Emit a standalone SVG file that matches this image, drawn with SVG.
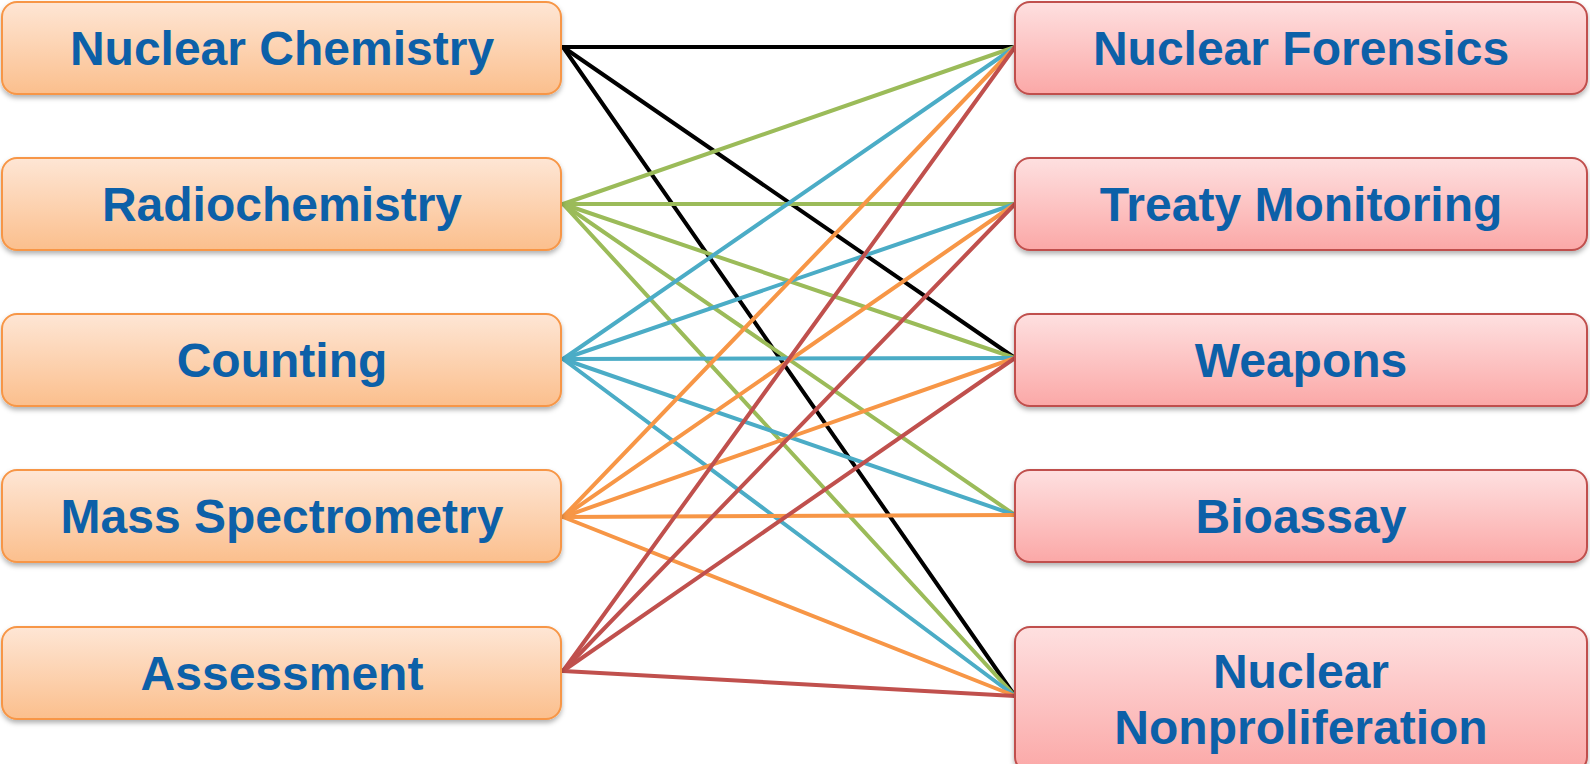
<svg xmlns="http://www.w3.org/2000/svg" width="1590" height="764" viewBox="0 0 1590 764">
<defs>
<linearGradient id="gO" x1="0" y1="0" x2="0" y2="1"><stop offset="0" stop-color="#FEE6D5"/><stop offset="1" stop-color="#FBBF8D"/></linearGradient>
<linearGradient id="gR" x1="0" y1="0" x2="0" y2="1"><stop offset="0" stop-color="#FEE0E0"/><stop offset="1" stop-color="#FBA8A7"/></linearGradient>
<filter id="sh" x="-5%" y="-10%" width="110%" height="130%"><feDropShadow dx="0" dy="3" stdDeviation="2.5" flood-color="#000" flood-opacity="0.3"/></filter>
<style>
.lb{fill:url(#gO);stroke:#F79646;stroke-width:2;filter:url(#sh)}
.rb{fill:url(#gR);stroke:#C0504D;stroke-width:2;filter:url(#sh)}
.t{font-family:"Liberation Sans",Arial,sans-serif;font-weight:bold;font-size:48px;fill:#0C60A8;text-anchor:middle}
.c line{stroke-width:4;stroke-linecap:round}
.k{stroke:#000}.g{stroke:#9BBB59}.b{stroke:#4BACC6}.o{stroke:#F79646}.r{stroke:#C0504D}
</style>
</defs>
<g id="connectors" class="c">
<line class="k" x1="563" y1="47" x2="1015" y2="47"/>
<line class="k" x1="563" y1="47" x2="1015" y2="358"/>
<line class="k" x1="563" y1="47" x2="1015" y2="696"/>
<line class="g" x1="563" y1="204" x2="1015" y2="47"/>
<line class="g" x1="563" y1="204" x2="1015" y2="204"/>
<line class="g" x1="563" y1="204" x2="1015" y2="358"/>
<line class="g" x1="563" y1="204" x2="1015" y2="515"/>
<line class="g" x1="563" y1="204" x2="1015" y2="696"/>
<line class="b" x1="563" y1="359" x2="1015" y2="47"/>
<line class="b" x1="563" y1="359" x2="1015" y2="204"/>
<line class="b" x1="563" y1="359" x2="1015" y2="358"/>
<line class="b" x1="563" y1="359" x2="1015" y2="515"/>
<line class="b" x1="563" y1="359" x2="1015" y2="696"/>
<line class="o" x1="563" y1="517" x2="1015" y2="47"/>
<line class="o" x1="563" y1="517" x2="1015" y2="204"/>
<line class="o" x1="563" y1="517" x2="1015" y2="358"/>
<line class="o" x1="563" y1="517" x2="1015" y2="515"/>
<line class="o" x1="563" y1="517" x2="1015" y2="696"/>
<line class="r" x1="563" y1="671" x2="1015" y2="47"/>
<line class="r" x1="563" y1="671" x2="1015" y2="204"/>
<line class="r" x1="563" y1="671" x2="1015" y2="358"/>
<line class="r" x1="563" y1="671" x2="1015" y2="696"/>
</g>
<g id="n-nuclear-chemistry"><rect class="lb" x="2" y="2" width="559" height="92" rx="15"/><text class="t" x="282" y="65">Nuclear Chemistry</text></g>
<g id="n-radiochemistry"><rect class="lb" x="2" y="158" width="559" height="92" rx="15"/><text class="t" x="282" y="221">Radiochemistry</text></g>
<g id="n-counting"><rect class="lb" x="2" y="314" width="559" height="92" rx="15"/><text class="t" x="282" y="377">Counting</text></g>
<g id="n-mass-spectrometry"><rect class="lb" x="2" y="470" width="559" height="92" rx="15"/><text class="t" x="282" y="533">Mass Spectrometry</text></g>
<g id="n-assessment"><rect class="lb" x="2" y="627" width="559" height="92" rx="15"/><text class="t" x="282" y="690">Assessment</text></g>
<g id="n-nuclear-forensics"><rect class="rb" x="1015" y="2" width="572" height="92" rx="15"/><text class="t" x="1301" y="65">Nuclear Forensics</text></g>
<g id="n-treaty-monitoring"><rect class="rb" x="1015" y="158" width="572" height="92" rx="15"/><text class="t" x="1301" y="221">Treaty Monitoring</text></g>
<g id="n-weapons"><rect class="rb" x="1015" y="314" width="572" height="92" rx="15"/><text class="t" x="1301" y="377">Weapons</text></g>
<g id="n-bioassay"><rect class="rb" x="1015" y="470" width="572" height="92" rx="15"/><text class="t" x="1301" y="533">Bioassay</text></g>
<g id="n-nuclear-nonproliferation"><rect class="rb" x="1015" y="627" width="572" height="145" rx="15"/><text class="t" x="1301" y="688">Nuclear</text><text class="t" x="1301" y="744">Nonproliferation</text></g>
</svg>
